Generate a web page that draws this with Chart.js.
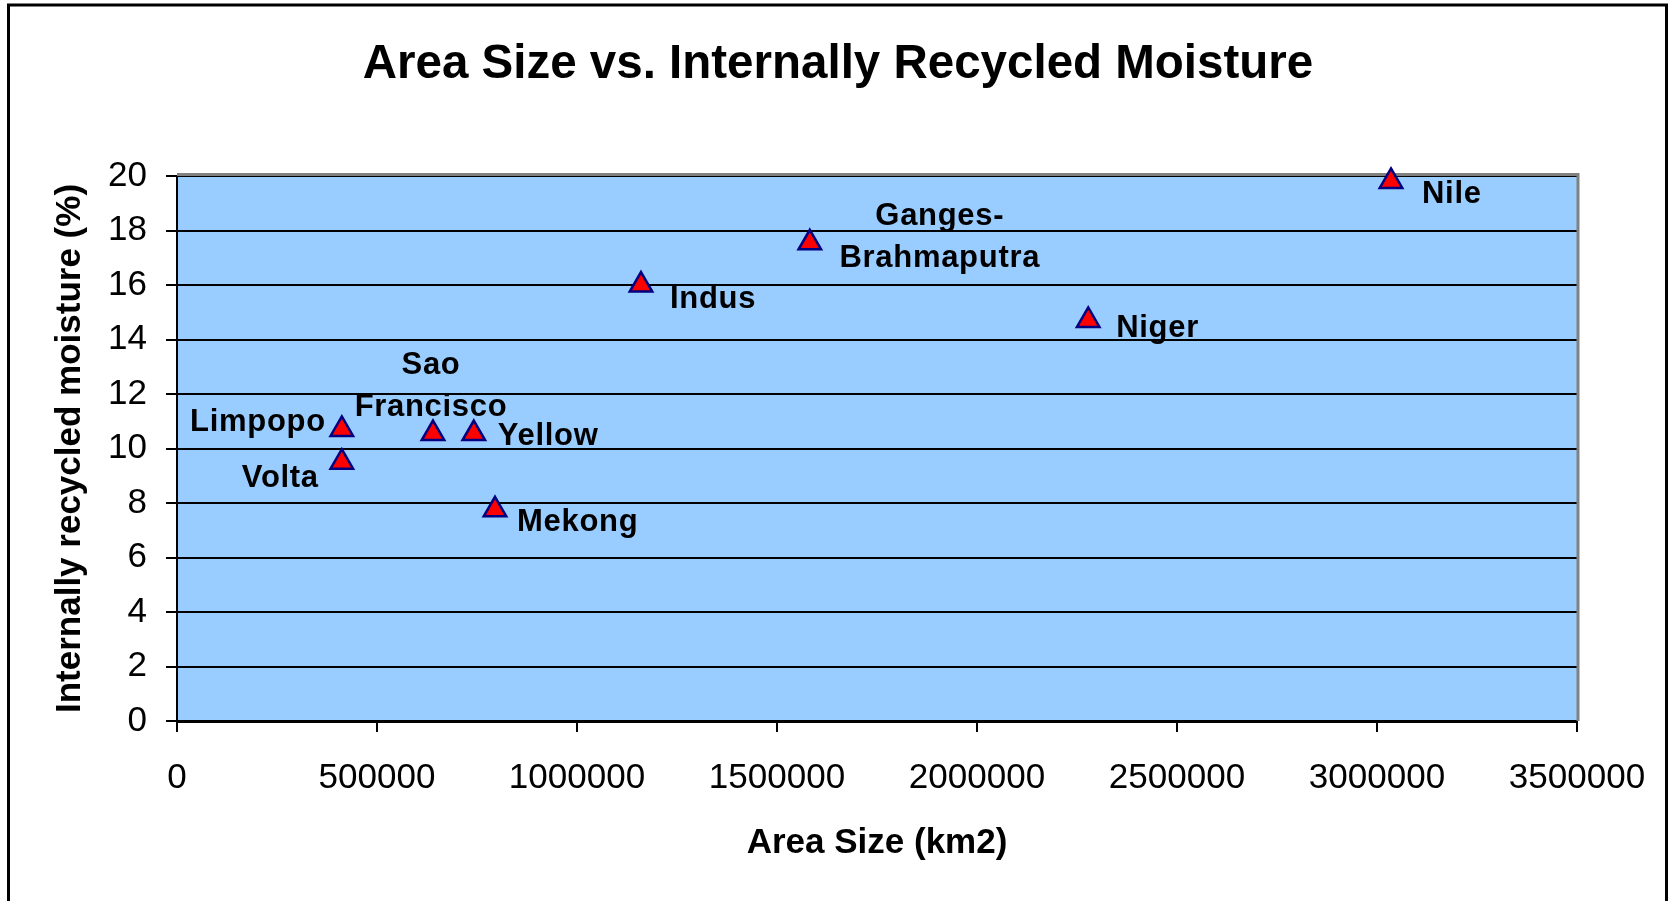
<!DOCTYPE html>
<html>
<head>
<meta charset="utf-8">
<title>Area Size vs. Internally Recycled Moisture</title>
<script src="https://cdn.jsdelivr.net/npm/chart.js@4.4.1/dist/chart.umd.min.js"></script>
<style>
  html, body { margin: 0; padding: 0; background: #fff; }
  #wrap { width: 1676px; height: 901px; }
</style>
</head>
<body>
<div id="wrap"><canvas id="chart" width="1676" height="901"></canvas></div>
<script>
// River basins, their area and share of internally recycled moisture
const basins = ['Volta', 'Limpopo', 'Sao\nFrancisco', 'Yellow', 'Mekong', 'Indus', 'Ganges-\nBrahmaputra', 'Niger', 'Nile'];
const areaKm2 = [412000, 412000, 640000, 742000, 795000, 1160000, 1582000, 2278000, 3035000];
const recycledPct = [9.5, 10.7, 10.55, 10.55, 7.75, 16.0, 17.55, 14.7, 19.8];

const xTicks = [0, 500000, 1000000, 1500000, 2000000, 2500000, 3000000, 3500000];
const yTicks = [0, 2, 4, 6, 8, 10, 12, 14, 16, 18, 20];

const chartTitle = 'Area Size vs. Internally Recycled Moisture';

// where each basin name sits relative to its marker
const labelPlacement = {
  'Volta': { align: 'right', dx: -23, dy: 16 },
  'Limpopo': { align: 'right', dx: -16, dy: -7 },
  'Sao\nFrancisco': { align: 'center', dx: -2, dy: -68 },
  'Yellow': { align: 'left', dx: 24, dy: 3 },
  'Mekong': { align: 'left', dx: 22, dy: 13 },
  'Indus': { align: 'left', dx: 29, dy: 14 },
  'Ganges-\nBrahmaputra': { align: 'center', dx: 130, dy: -26 },
  'Niger': { align: 'left', dx: 28, dy: 8 },
  'Nile': { align: 'left', dx: 31, dy: 13 }
};

const FONT = "'Liberation Sans', Arial, sans-serif";

// light blue plot background
const plotBackground = {
  id: 'plotBackground',
  beforeDraw(chart) {
    const { ctx, chartArea: a } = chart;
    ctx.save();
    ctx.fillStyle = '#99CCFF';
    ctx.fillRect(a.left, a.top, a.right - a.left, a.bottom - a.top);
    ctx.restore();
  }
};

// gray edge on top and right of the plot, the outer frame and the title
const frames = {
  id: 'frames',
  beforeDatasetsDraw(chart) {
    const { ctx, chartArea: a } = chart;
    ctx.save();
    ctx.strokeStyle = '#808080';
    ctx.lineWidth = 3;
    ctx.beginPath();
    ctx.moveTo(a.left, a.top - 1.5);
    ctx.lineTo(a.right + 1, a.top - 1.5);
    ctx.lineTo(a.right + 1, a.bottom);
    ctx.stroke();
    ctx.restore();
  },
  afterDraw(chart) {
    const ctx = chart.ctx;
    ctx.save();
    ctx.strokeStyle = '#000';
    ctx.lineWidth = 3;
    ctx.strokeRect(8.5, 5, 1658, 1000);
    ctx.fillStyle = '#000';
    ctx.font = 'bold 47.5px ' + FONT;
    ctx.textAlign = 'center';
    ctx.textBaseline = 'middle';
    ctx.fillText(chartTitle, chart.width / 2, 65);
    ctx.restore();
  }
};

// basin names next to the markers
const pointLabels = {
  id: 'pointLabels',
  afterDatasetsDraw(chart) {
    const { ctx } = chart;
    const meta = chart.getDatasetMeta(0);
    ctx.save();
    ctx.font = 'bold 31px ' + FONT;
    ctx.fillStyle = '#000';
    ctx.textBaseline = 'middle';
    if ('letterSpacing' in ctx) ctx.letterSpacing = '0.7px';
    meta.data.forEach((pt, i) => {
      const name = basins[i];
      const p = labelPlacement[name];
      ctx.textAlign = p.align;
      name.split('\n').forEach((line, j) => {
        ctx.fillText(line, pt.x + p.dx, pt.y + p.dy + j * 42);
      });
    });
    ctx.restore();
  }
};

new Chart(document.getElementById('chart'), {
  type: 'scatter',
  data: {
    datasets: [{
      label: 'Basins',
      data: areaKm2.map((x, i) => ({ x: x, y: recycledPct[i] })),
      clip: false,
      pointStyle: 'triangle',
      pointRadius: 13,
      pointHoverRadius: 13,
      backgroundColor: '#FF0000',
      borderColor: '#000080',
      borderWidth: 2.5
    }]
  },
  options: {
    responsive: false,
    animation: false,
    events: [],
    layout: { padding: { left: 0, right: 99, top: 176, bottom: 0 } },
    plugins: {
      legend: { display: false },
      tooltip: { enabled: false },
      title: { display: false }
    },
    scales: {
      x: {
        type: 'linear',
        min: 0,
        max: 3500000,
        afterBuildTicks(scale) { scale.ticks = xTicks.map(v => ({ value: v })); },
        afterFit(scale) { scale.height = 180; },
        ticks: {
          color: '#000',
          padding: 25,
          maxRotation: 0,
          font: { family: FONT, size: 35 },
          callback: v => String(v)
        },
        grid: { drawOnChartArea: false, color: '#000', lineWidth: 2, tickLength: 11 },
        border: { color: '#000', width: 3 },
        title: {
          display: true,
          text: 'Area Size (km2)',
          color: '#000',
          font: { family: FONT, size: 35, weight: 'bold' },
          padding: { top: 0, bottom: 37 }
        }
      },
      y: {
        min: 0,
        max: 20,
        afterBuildTicks(scale) { scale.ticks = yTicks.map(v => ({ value: v })); },
        afterFit(scale) { scale.width = 177; },
        ticks: {
          color: '#000',
          padding: 19,
          font: { family: FONT, size: 35 }
        },
        grid: { color: '#000', lineWidth: 2, tickLength: 11 },
        border: { color: '#000', width: 2 },
        title: {
          display: true,
          text: 'Internally recycled moisture (%)',
          color: '#000',
          font: { family: FONT, size: 35, weight: 'bold' },
          padding: { top: 49, bottom: 0 }
        }
      }
    }
  },
  plugins: [plotBackground, frames, pointLabels]
});
</script>
</body>
</html>
